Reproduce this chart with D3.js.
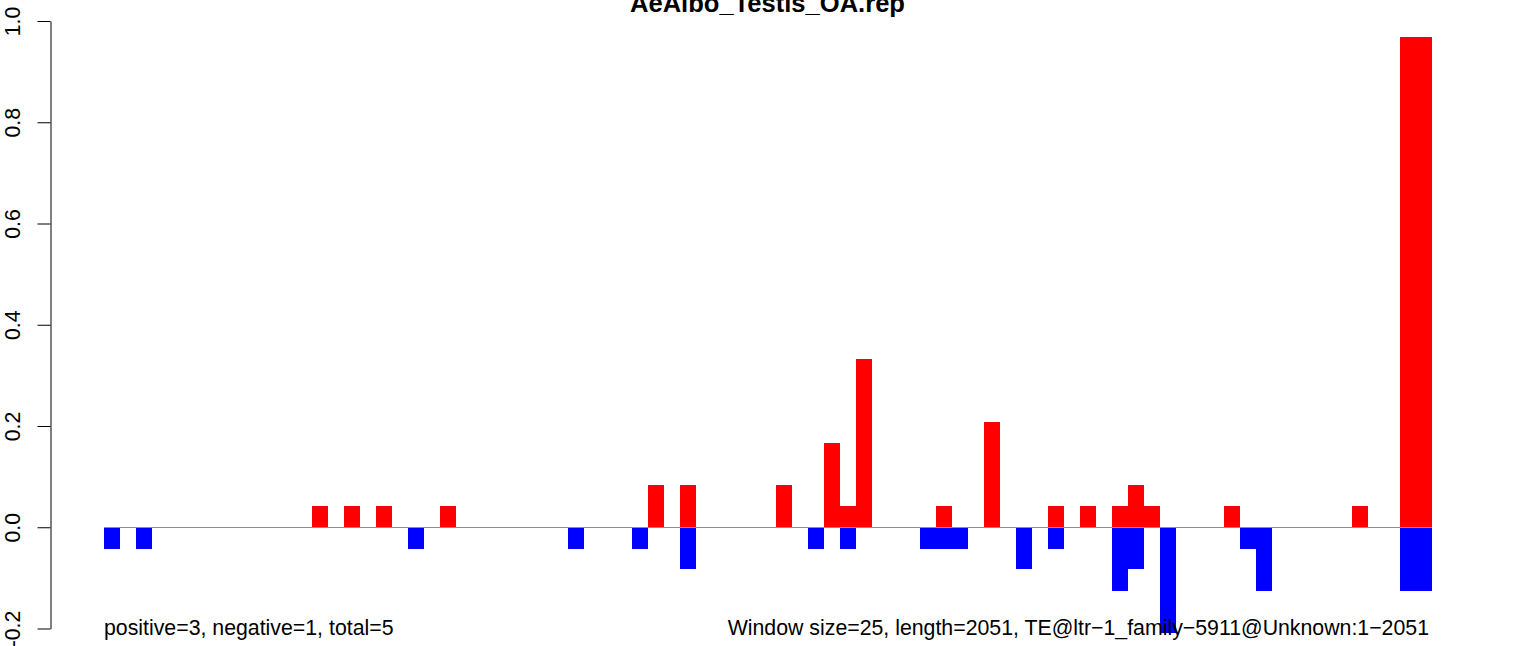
<!DOCTYPE html>
<html>
<head>
<meta charset="utf-8">
<script src="https://cdn.jsdelivr.net/npm/d3@7"></script>
<style>
  html, body { margin: 0; padding: 0; background: #fff; }
  svg { display: block; font-family: "Liberation Sans", Arial, Helvetica, sans-serif; }
</style>
</head>
<body>
<svg id="chart" width="1536" height="646"></svg>
<script>
// ---- data ----
const titleText = "AeAlbo_Testis_OA.rep";
const leftNote = "positive=3, negative=1, total=5";
const rightNote = "Window size=25, length=2051, TE@ltr\u22121_family\u22125911@Unknown:1\u22122051";

// window index 0..82 (83 windows of size 25 over length 2051)
const windows = d3.range(83);

// positive (red) values per window
const posValues = [
  0, 0, 0, 0, 0, 0, 0, 0, 0, 0,
  0, 0, 0, 0.042, 0, 0.042, 0, 0.042, 0, 0,
  0, 0.042, 0, 0, 0, 0, 0, 0, 0, 0,
  0, 0, 0, 0, 0.083, 0, 0.083, 0, 0, 0,
  0, 0, 0.083, 0, 0, 0.167, 0.042, 0.333, 0, 0,
  0, 0, 0.042, 0, 0, 0.208, 0, 0, 0, 0.042,
  0, 0.042, 0, 0.042, 0.083, 0.042, 0, 0, 0, 0,
  0.042, 0, 0, 0, 0, 0, 0, 0, 0.042, 0,
  0, 0.968, 0.968
];

// negative (blue) values per window
const negValues = [
  -0.042, 0, -0.042, 0, 0, 0, 0, 0, 0, 0,
  0, 0, 0, 0, 0, 0, 0, 0, 0, -0.042,
  0, 0, 0, 0, 0, 0, 0, 0, 0, -0.042,
  0, 0, 0, -0.042, 0, 0, -0.083, 0, 0, 0,
  0, 0, 0, 0, -0.042, 0, -0.042, 0, 0, 0,
  0, -0.042, -0.042, -0.042, 0, 0, 0, -0.083, 0, -0.042,
  0, 0, 0, -0.125, -0.083, 0, -0.208, 0, 0, 0,
  0, -0.042, -0.125, 0, 0, 0, 0, 0, 0, 0,
  0, -0.125, -0.125
];

const yTicks = [-0.2, 0.0, 0.2, 0.4, 0.6, 0.8, 1.0];
const yTickLabels = ["-0.2", "0.0", "0.2", "0.4", "0.6", "0.8", "1.0"];

// ---- layout ----
const svg = d3.select("#chart");
const plotLeft = 104, plotRight = 1432;
const baseFont = 21.3;
const x = d3.scaleLinear().domain([0, windows.length]).range([plotLeft, plotRight]);
const y = d3.scaleLinear().domain([-0.2, 1.0]).range([628.5, 21]);
const bw = x(1) - x(0);

// positive bars
svg.append("g").attr("shape-rendering", "crispEdges")
  .selectAll("rect").data(windows.filter(i => posValues[i] > 0)).join("rect")
  .attr("x", i => x(i))
  .attr("width", bw)
  .attr("y", i => y(posValues[i]))
  .attr("height", i => y(0) - y(posValues[i]))
  .attr("fill", "#FF0000");

// negative bars
svg.append("g").attr("shape-rendering", "crispEdges")
  .selectAll("rect").data(windows.filter(i => negValues[i] < 0)).join("rect")
  .attr("x", i => x(i))
  .attr("width", bw)
  .attr("y", y(0))
  .attr("height", i => y(negValues[i]) - y(0))
  .attr("fill", "#0000FF");

// zero line
svg.append("line")
  .attr("x1", plotLeft).attr("x2", plotRight)
  .attr("y1", Math.round(y(0)) + 0.5).attr("y2", Math.round(y(0)) + 0.5)
  .attr("stroke", "#8c8c8c").attr("stroke-width", 1);

// y axis
const yAxis = d3.axisLeft(y).tickValues(yTicks).tickSize(13).tickSizeOuter(0)
  .tickFormat((d, i) => yTickLabels[i]);
const ax = svg.append("g").attr("transform", "translate(50.5,0)").call(yAxis);
ax.select(".domain").attr("stroke", "#000");
ax.selectAll(".tick line").attr("stroke", "#000");
ax.selectAll(".tick text")
  .attr("x", null).attr("dy", null)
  .attr("transform", "translate(-30.5,0) rotate(-90)")
  .attr("text-anchor", "middle")
  .attr("font-size", baseFont)
  .attr("font-family", "Liberation Sans, Arial, sans-serif")
  .attr("fill", "#000");

// title (partly above the top edge, as in the reference)
svg.append("text")
  .attr("x", 767.5).attr("y", 12)
  .attr("text-anchor", "middle")
  .attr("font-weight", "bold")
  .attr("font-size", baseFont * 1.2)
  .attr("fill", "#000")
  .text(titleText);

// bottom notes
svg.append("text")
  .attr("x", plotLeft).attr("y", 635)
  .attr("font-size", baseFont).attr("fill", "#000")
  .text(leftNote);
svg.append("text")
  .attr("x", 1429).attr("y", 635)
  .attr("text-anchor", "end")
  .attr("font-size", baseFont).attr("fill", "#000")
  .text(rightNote);
</script>
</body>
</html>
